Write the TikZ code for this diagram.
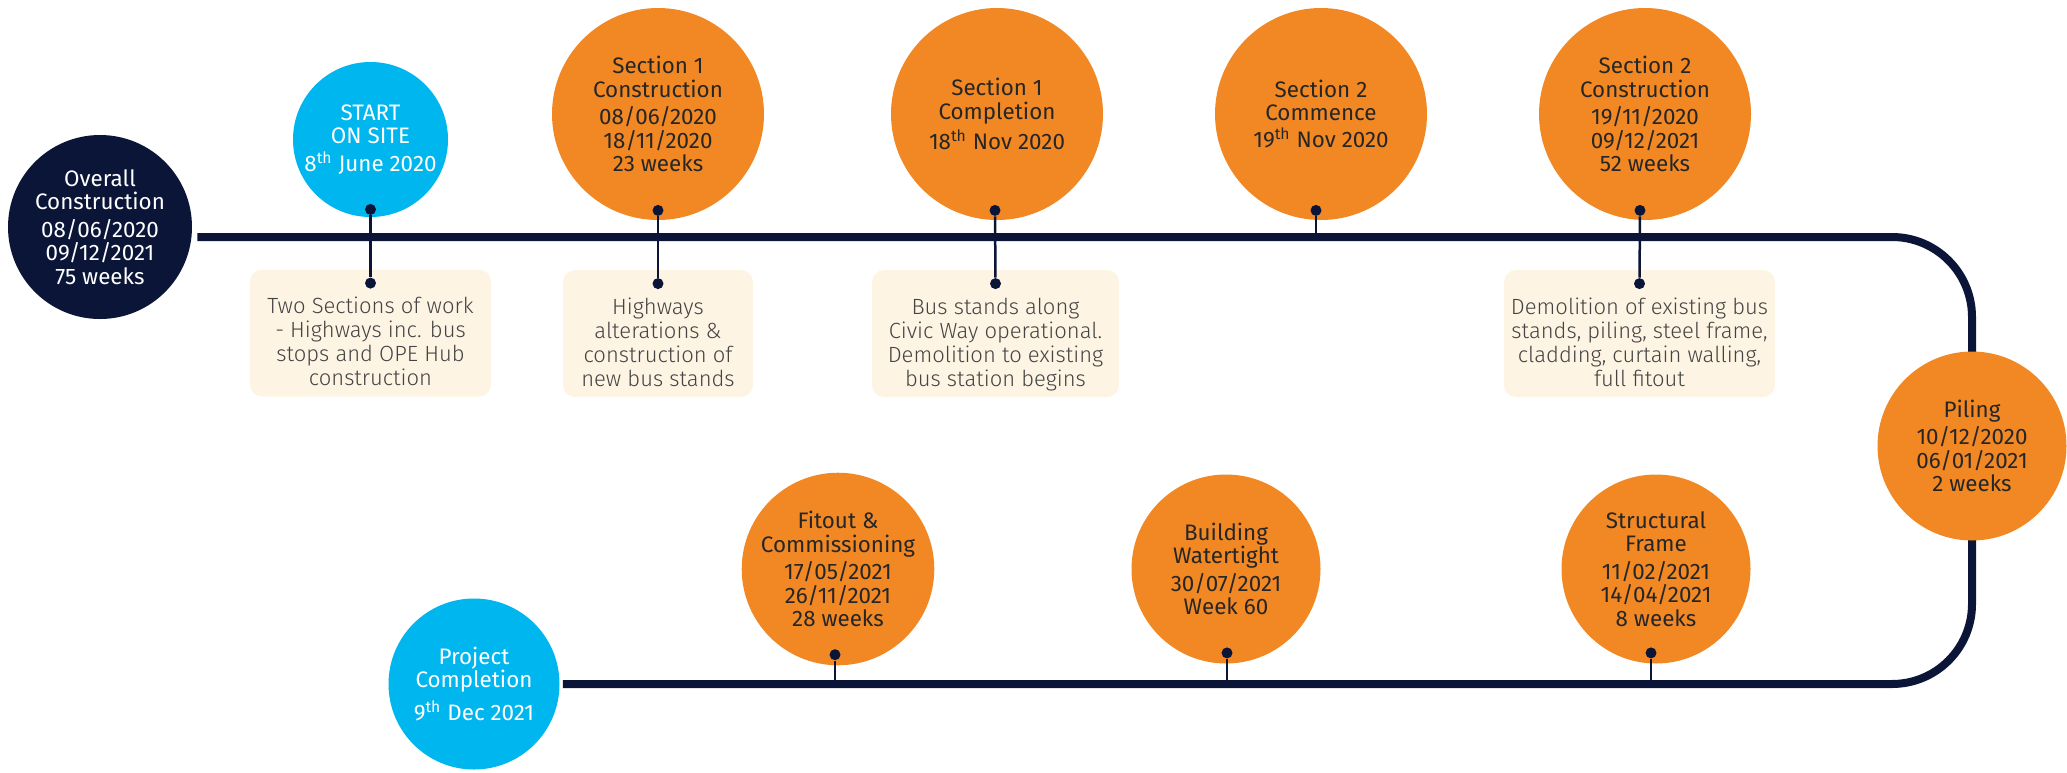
\documentclass[tikz,border=0pt]{standalone}
\usepackage{fontspec}
\setmainfont{Fira Sans}
\newfontfamily\notefont{Fira Sans Light}
\usetikzlibrary{positioning}
\usetikzlibrary{backgrounds}
\definecolor{navy}{HTML}{0B1538}
\definecolor{skyblue}{HTML}{00B6EF}
\definecolor{tangerine}{HTML}{F28823}
\definecolor{cream}{HTML}{FEF4E3}
\definecolor{ink}{HTML}{262626}
\definecolor{notegray}{HTML}{444444}
\tikzset{
  milestone/.style={circle, inner sep=0pt, align=center,
    font=\fontsize{11.2}{11.7}\selectfont},
  navydisc/.style={milestone, fill=navy, text=white, minimum size=92pt},
  skydisc/.style={milestone, fill=skyblue, text=white},
  phase/.style={milestone, fill=tangerine, text=ink},
  bigphase/.style={phase, minimum size=106pt},
  smallphase/.style={phase, minimum size=94.5pt},
  notebox/.style={rectangle, rounded corners=6pt, fill=cream, minimum height=63.5pt},
  note/.style={inner sep=0pt, align=center, text=notegray,
    font={\notefont\fontsize{11}{12}\selectfont}},
  pindot/.style={circle, fill=navy, inner sep=0pt, minimum size=5.5pt},
  stem/.style={draw=navy, line width=1.25pt},
  timeline/.style={draw=navy, line width=4pt, rounded corners=40pt}
}
\begin{document}
\begin{tikzpicture}[x=0.5pt, y=-0.5pt, node distance=4pt]
  \useasboundingbox (0,0) rectangle (2067,772);
  \coordinate (topline) at (0,237);
  \coordinate (botline) at (0,684);

  % milestones along the top
  \node[navydisc] (overall) at (100,227) {Overall\\Construction\\[2pt]08/06/2020\\09/12/2021\\75 weeks};
  \node[skydisc, minimum size=77.5pt] (start) at (370.5,139.5) {START\\ON SITE\\[2pt]8\textsuperscript{th} June 2020};
  \node[bigphase] (s1build) at (658,114) {Section 1\\Construction\\[2pt]08/06/2020\\18/11/2020\\23 weeks};
  \node[bigphase] (s1done) at (997,114) {Section 1\\Completion\\[2pt]18\textsuperscript{th} Nov 2020};
  \node[bigphase] (s2start) at (1321,114) {Section 2\\Commence\\[2pt]19\textsuperscript{th} Nov 2020};
  \node[bigphase] (s2build) at (1645,114) {Section 2\\Construction\\[2pt]19/11/2020\\09/12/2021\\52 weeks};

  % milestones along the bottom
  \node[smallphase] (piling) at (1972,446) {Piling\\[2pt]10/12/2020\\06/01/2021\\2 weeks};
  \node[smallphase] (frame) at (1656,569) {Structural\\Frame\\[2pt]11/02/2021\\14/04/2021\\8 weeks};
  \node[smallphase] (watertight) at (1226,569) {Building\\Watertight\\[2pt]30/07/2021\\Week 60};
  \node[smallphase] (fitout) at (838,569) {Fitout \&\\Commissioning\\[2pt]17/05/2021\\26/11/2021\\28 weeks};
  \node[skydisc, minimum size=85.5pt] (finish) at (474,684) {Project\\Completion\\[3pt]9\textsuperscript{th} Dec 2021};

  % note boxes
  \node[notebox, minimum width=120.5pt] (box1) at (370.5,333) {};
  \node[notebox, minimum width=95pt] (box2) at (658,333.5) {};
  \node[notebox, minimum width=123.5pt] (box3) at (995.5,333.5) {};
  \node[notebox, minimum width=135.5pt] (box4) at (1639.5,333.5) {};

  % pins
  \node[pindot] (start-pin) at ([yshift=4pt]start.south) {};
  \node[pindot] (s1build-pin) at ([yshift=5pt]s1build.south) {};
  \node[pindot] (s1done-pin) at ([shift={(-1pt,5pt)}]s1done.south) {};
  \node[pindot] (s2start-pin) at ([shift={(-2.5pt,5pt)}]s2start.south) {};
  \node[pindot] (s2build-pin) at ([shift={(-2.5pt,5pt)}]s2build.south) {};
  \node[pindot] (fitout-pin) at ([shift={(-1.5pt,5.5pt)}]fitout.south) {};
  \node[pindot] (watertight-pin) at ([shift={(0.5pt,5.5pt)}]watertight.south) {};
  \node[pindot] (frame-pin) at ([shift={(-2.5pt,5.5pt)}]frame.south) {};
  \node[pindot] (box1-pin) at ([yshift=-7pt]box1.north) {};
  \node[pindot] (box2-pin) at ([yshift=-7pt]box2.north) {};
  \node[pindot] (box3-pin) at ([yshift=-7pt]box3.north) {};
  \node[pindot] (box4-pin) at ([yshift=-7pt]box4.north) {};

  % note texts
  \node[note, below=of box1-pin] {Two Sections of work\\- Highways inc. bus\\stops and OPE Hub\\construction};
  \node[note, below=of box2-pin] {Highways\\alterations \&\\construction of\\new bus stands};
  \node[note, below=of box3-pin] {Bus stands along\\Civic Way operational.\\Demolition to existing\\bus station begins};
  \node[note, below=of box4-pin] {Demolition of existing bus\\stands, piling, steel frame,\\cladding, curtain walling,\\full fitout};

  % stems
  \draw[stem] (start-pin) -- (box1-pin);
  \draw[stem] (s1build-pin) -- (box2-pin);
  \draw[stem] (s1done-pin) -- (box3-pin);
  \draw[stem] (s2start-pin) -- (s2start-pin |- topline);
  \draw[stem] (s2build-pin) -- (box4-pin);
  \draw[stem] (fitout-pin) -- (fitout-pin |- botline);
  \draw[stem] (watertight-pin) -- (watertight-pin |- botline);
  \draw[stem] (frame-pin) -- (frame-pin |- botline);

  % the track
  \begin{scope}[on background layer]
    \draw[timeline, shorten <=2.5pt, shorten >=1.5pt]
      (overall.east |- topline) -- (piling.center |- topline)
      -- (piling.center |- botline) -- (finish.east |- botline);
  \end{scope}
\end{tikzpicture}
\end{document}
